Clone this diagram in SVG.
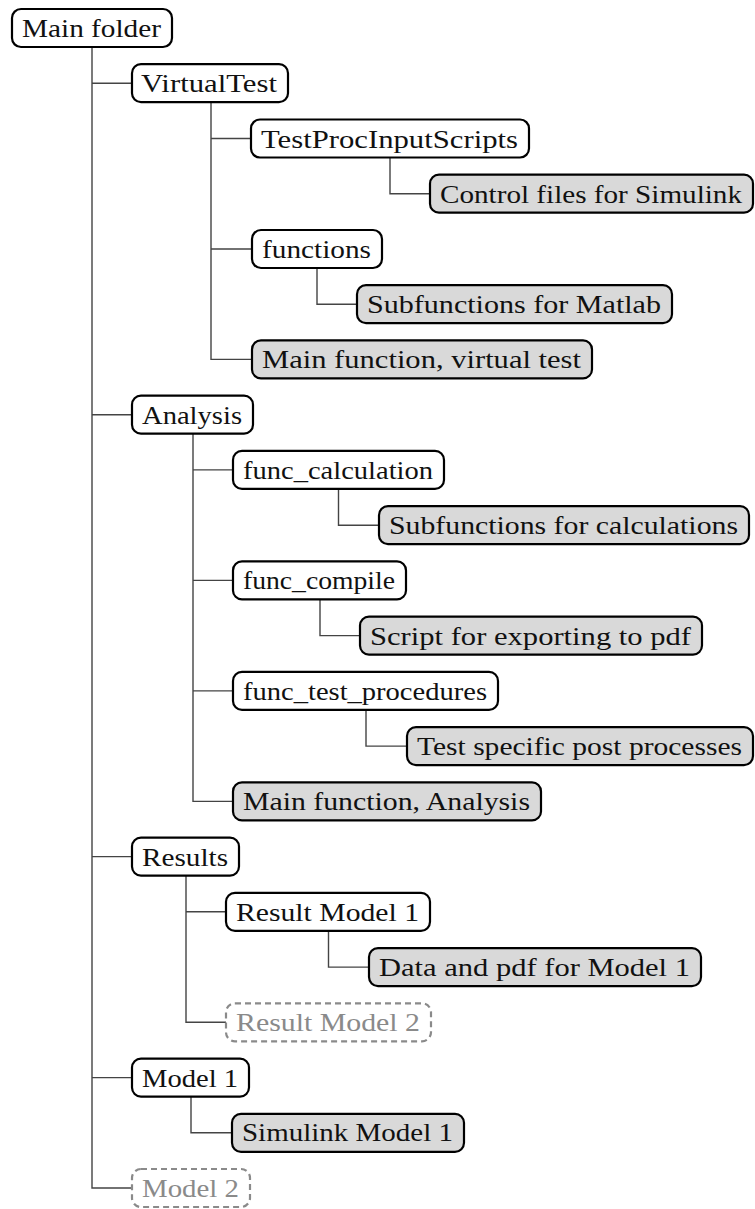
<svg xmlns="http://www.w3.org/2000/svg" width="755" height="1209" viewBox="0 0 755 1209">
<style>
.box{fill:#ffffff;stroke:#000;stroke-width:2.2}
.leaf{fill:#d9d9d9;stroke:#000;stroke-width:2.2}
.ghost{fill:#ffffff;stroke:#8a8a8a;stroke-width:2.2;stroke-dasharray:6 4}
.t{font-family:"Liberation Serif","Times New Roman",serif;font-size:25px;fill:#111}
.tg{font-family:"Liberation Serif","Times New Roman",serif;font-size:25px;fill:#8a8a8a}
.c{fill:none;stroke:#444;stroke-width:1.4}
</style>
<rect width="755" height="1209" fill="#fff"/>
<g id="connectors">
<path class="c" d="M92,47 V1188 H132 M92,83.2 H132 M92,414.7 H132 M92,856.6 H132 M92,1077.6 H132"/>
<path class="c" d="M211,102 V359.4 H252 M211,138.5 H251 M211,249 H252"/>
<path class="c" d="M390,157.5 V193.7 H430"/>
<path class="c" d="M317,268 V304.2 H357"/>
<path class="c" d="M193,433.7 V801.4 H233 M193,469.9 H233 M193,580.4 H233 M193,690.9 H233"/>
<path class="c" d="M338.5,489 V525.2 H379"/>
<path class="c" d="M320,599.4 V635.6 H360"/>
<path class="c" d="M366,710 V746.1 H407"/>
<path class="c" d="M186,875.6 V1022.3 H226 M186,911.8 H226"/>
<path class="c" d="M328.5,930.8 V967.1 H369"/>
<path class="c" d="M191,1096.6 V1132.8 H232"/>
</g>
<g id="n0"><rect class="box" x="12" y="9" width="160" height="38" rx="9"/><text class="t" x="22" y="37" textLength="139" lengthAdjust="spacingAndGlyphs">Main folder</text></g>
<g id="n1"><rect class="box" x="132" y="64.2" width="156" height="38" rx="9"/><text class="t" x="141" y="92.2" textLength="136" lengthAdjust="spacingAndGlyphs">VirtualTest</text></g>
<g id="n2"><rect class="box" x="251" y="119.5" width="278" height="38" rx="9"/><text class="t" x="261" y="147.5" textLength="257" lengthAdjust="spacingAndGlyphs">TestProcInputScripts</text></g>
<g id="n3"><rect class="leaf" x="430" y="174.7" width="323" height="38" rx="9"/><text class="t" x="440" y="202.7" textLength="302" lengthAdjust="spacingAndGlyphs">Control files for Simulink</text></g>
<g id="n4"><rect class="box" x="252" y="230" width="130" height="38" rx="9"/><text class="t" x="262" y="258" textLength="109" lengthAdjust="spacingAndGlyphs">functions</text></g>
<g id="n5"><rect class="leaf" x="357" y="285.2" width="315" height="38" rx="9"/><text class="t" x="367" y="313.2" textLength="294" lengthAdjust="spacingAndGlyphs">Subfunctions for Matlab</text></g>
<g id="n6"><rect class="leaf" x="252" y="340.4" width="340" height="38" rx="9"/><text class="t" x="262" y="368.4" textLength="319" lengthAdjust="spacingAndGlyphs">Main function, virtual test</text></g>
<g id="n7"><rect class="box" x="132" y="395.7" width="121" height="38" rx="9"/><text class="t" x="142" y="423.7" textLength="100" lengthAdjust="spacingAndGlyphs">Analysis</text></g>
<g id="n8"><rect class="box" x="233" y="450.9" width="211" height="38" rx="9"/><text class="t" x="243" y="478.9" textLength="190" lengthAdjust="spacingAndGlyphs">func_calculation</text></g>
<g id="n9"><rect class="leaf" x="379" y="506.2" width="370" height="38" rx="9"/><text class="t" x="389" y="534.2" textLength="349" lengthAdjust="spacingAndGlyphs">Subfunctions for calculations</text></g>
<g id="n10"><rect class="box" x="233" y="561.4" width="173" height="38" rx="9"/><text class="t" x="243" y="589.4" textLength="152" lengthAdjust="spacingAndGlyphs">func_compile</text></g>
<g id="n11"><rect class="leaf" x="360" y="616.6" width="342" height="38" rx="9"/><text class="t" x="370" y="644.6" textLength="321" lengthAdjust="spacingAndGlyphs">Script for exporting to pdf</text></g>
<g id="n12"><rect class="box" x="233" y="671.9" width="265" height="38" rx="9"/><text class="t" x="243" y="699.9" textLength="244" lengthAdjust="spacingAndGlyphs">func_test_procedures</text></g>
<g id="n13"><rect class="leaf" x="407" y="727.1" width="346" height="38" rx="9"/><text class="t" x="417" y="755.1" textLength="325" lengthAdjust="spacingAndGlyphs">Test specific post processes</text></g>
<g id="n14"><rect class="leaf" x="233" y="782.4" width="308" height="38" rx="9"/><text class="t" x="243" y="810.4" textLength="287" lengthAdjust="spacingAndGlyphs">Main function, Analysis</text></g>
<g id="n15"><rect class="box" x="132" y="837.6" width="107" height="38" rx="9"/><text class="t" x="142" y="865.6" textLength="86" lengthAdjust="spacingAndGlyphs">Results</text></g>
<g id="n16"><rect class="box" x="226" y="892.8" width="204" height="38" rx="9"/><text class="t" x="236" y="920.8" textLength="183" lengthAdjust="spacingAndGlyphs">Result Model 1</text></g>
<g id="n17"><rect class="leaf" x="369" y="948.1" width="332" height="38" rx="9"/><text class="t" x="379" y="976.1" textLength="311" lengthAdjust="spacingAndGlyphs">Data and pdf for Model 1</text></g>
<g id="n18"><rect class="ghost" x="226" y="1003.3" width="205" height="38" rx="9"/><text class="tg" x="236" y="1031.3" textLength="184" lengthAdjust="spacingAndGlyphs">Result Model 2</text></g>
<g id="n19"><rect class="box" x="132" y="1058.6" width="117" height="38" rx="9"/><text class="t" x="142" y="1086.6" textLength="96" lengthAdjust="spacingAndGlyphs">Model 1</text></g>
<g id="n20"><rect class="leaf" x="232" y="1113.8" width="232" height="38" rx="9"/><text class="t" x="242" y="1141.3" textLength="211" lengthAdjust="spacingAndGlyphs">Simulink Model 1</text></g>
<g id="n21"><rect class="ghost" x="132" y="1169" width="118" height="38" rx="9"/><text class="tg" x="142" y="1197" textLength="97" lengthAdjust="spacingAndGlyphs">Model 2</text></g>
</svg>
